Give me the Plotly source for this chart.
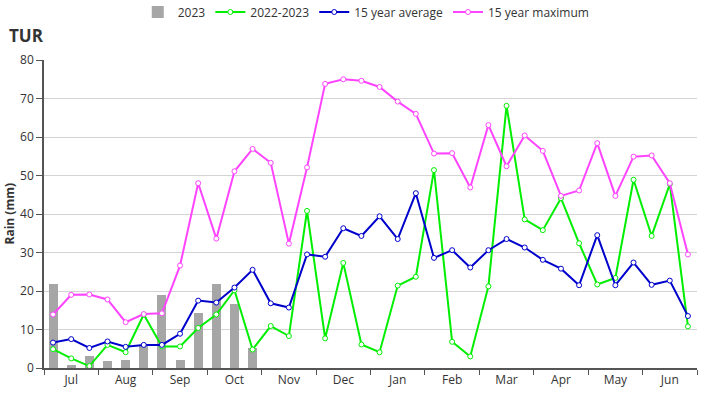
import plotly.graph_objects as go

months = ["Jul", "Aug", "Sep", "Oct", "Nov", "Dec", "Jan", "Feb", "Mar", "Apr", "May", "Jun"]
dekads = list(range(36))

rain_2023 = [21.7, 0.7, 3.2, 1.7, 2.2, 5.8, 19.0, 2.2, 14.4, 21.8, 16.5, 5.2]

rain_2022_2023 = [4.9, 2.5, 0.5, 6.0, 4.1, 13.9, 5.6, 5.6, 10.4, 13.9, 20.2, 4.8,
                  10.9, 8.3, 40.8, 7.7, 27.3, 6.1, 4.1, 21.4, 23.7, 51.4, 6.8, 3.0,
                  21.2, 68.1, 38.6, 35.8, 44.1, 32.4, 21.7, 23.4, 48.9, 34.3, 47.8, 10.8]

avg_15yr = [6.6, 7.5, 5.2, 6.9, 5.5, 6.0, 6.0, 8.9, 17.5, 17.0, 20.9, 25.5,
            16.8, 15.7, 29.5, 28.9, 36.3, 34.3, 39.4, 33.5, 45.4, 28.6, 30.6, 26.1,
            30.6, 33.5, 31.3, 28.1, 25.8, 21.5, 34.5, 21.5, 27.4, 21.6, 22.7, 13.5]

max_15yr = [13.9, 19.0, 19.1, 17.8, 11.9, 14.0, 14.2, 26.6, 48.0, 33.6, 51.1, 56.9,
            53.3, 32.3, 52.1, 73.8, 75.0, 74.6, 73.0, 69.2, 66.0, 55.7, 55.8, 46.9,
            63.1, 52.4, 60.4, 56.4, 44.7, 46.1, 58.4, 44.7, 54.9, 55.2, 48.0, 29.5]

font_family = "Open Sans, Noto Sans, sans-serif"
W, H = 726, 400
L, R, T, B = 43.5, 29, 60, 32
pw, ph = W - L - R, H - T - B

fig = go.Figure()

fig.add_trace(go.Bar(
    x=dekads[:len(rain_2023)], y=rain_2023, name="2023",
    marker=dict(color="#a6a6a6", line=dict(width=0)), width=0.5,
))

def line_trace(y, name, color):
    return go.Scatter(
        x=dekads, y=y, name=name, mode="lines+markers",
        line=dict(color=color, width=2),
        marker=dict(symbol="circle", size=5, color="white", line=dict(color=color, width=1)),
    )

fig.add_trace(line_trace(rain_2022_2023, "2022-2023", "#00ee00"))
fig.add_trace(line_trace(avg_15yr, "15 year average", "#0000cc"))
fig.add_trace(line_trace(max_15yr, "15 year maximum", "#ff44ff"))

fig.update_layout(
    width=W, height=H,
    margin=dict(l=L, r=R, t=T, b=B, autoexpand=False),
    paper_bgcolor="white", plot_bgcolor="white",
    font=dict(family=font_family, size=12, color="#333333"),
    legend=dict(orientation="h", x=(366 - L) / pw, xanchor="center",
                y=1 + (T - 12) / ph, yanchor="middle", font=dict(size=12, color="#333333"),
                itemwidth=30, tracegroupgap=0),
    showlegend=True,
    bargap=0,
    annotations=[
        dict(text="<b>TUR</b>", xref="paper", yref="paper",
             x=(6 - L) / pw, y=1 + (T - 36) / ph, xanchor="left", yanchor="middle",
             showarrow=False, font=dict(size=17, color="#333333", family=font_family)),
        dict(text="<b>Rain (mm)</b>", xref="paper", yref="paper",
             x=(8 - L) / pw, y=0.5, xanchor="center", yanchor="middle", textangle=-90,
             showarrow=False, font=dict(size=12, color="#333333", family=font_family)),
    ],
)

fig.update_xaxes(
    range=[-0.5, 35.5], automargin=False,
    tickmode="array", tickvals=[1 + 3 * i for i in range(12)], ticktext=months,
    ticks="", showgrid=False, zeroline=False,
    showline=True, linecolor="#555555", linewidth=1.5,
    tickfont=dict(size=12, color="#333333"),
    minor=dict(tickmode="array", tickvals=[-0.5 + 3 * i for i in range(13)],
               ticks="outside", ticklen=5, tickcolor="#555555", tickwidth=1, showgrid=False),
)

fig.update_yaxes(
    range=[0, 80], dtick=10, tick0=0, automargin=False,
    showgrid=True, gridcolor="#d4d4d4", gridwidth=1,
    zeroline=False, showline=True, linecolor="#555555", linewidth=1.5,
    ticks="outside", ticklen=6, tickcolor="#555555",
    tickfont=dict(size=12, color="#333333"),
)

fig.write_html("out.html", config={"displayModeBar": False},
               post_script="document.body.style.margin='0px';")
